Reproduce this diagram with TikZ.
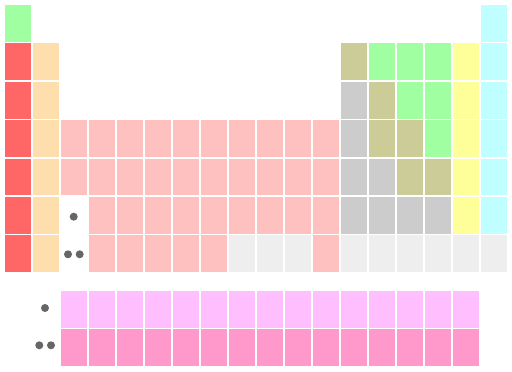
\documentclass[tikz,border=0pt]{standalone}
\definecolor{alkali}{HTML}{FF6666}
\definecolor{alkearth}{HTML}{FFDEAD}
\definecolor{transmetal}{HTML}{FFC0C0}
\definecolor{postmetal}{HTML}{CCCCCC}
\definecolor{metalloid}{HTML}{CCCC99}
\definecolor{nonmetal}{HTML}{A0FFA0}
\definecolor{halogen}{HTML}{FFFF99}
\definecolor{noblegas}{HTML}{C0FFFF}
\definecolor{lanthanoid}{HTML}{FFBFFF}
\definecolor{actinoid}{HTML}{FF99CC}
\definecolor{unknown}{HTML}{EEEEEE}
\definecolor{dotgray}{HTML}{666666}
% one box of the table: column, row, colour
\newcommand{\elbox}[3]{\fill[#3] ({5+28*(#1-1)},{5+38.4*(#2-1)}) rectangle ++(26,36.7);}
\newcommand{\felbox}[3]{\fill[#3] ({5+28*(#1-1)},{291+38.4*(#2-1)}) rectangle ++(26,36.7);}
\begin{document}
\begin{tikzpicture}[x=1pt,y=-1pt]
	\tikzset{marker/.style={fill=dotgray}}
	\useasboundingbox (0,0) rectangle (512,372);
	% main block
	\foreach \r in {2,...,7} {
		\elbox{1}{\r}{alkali}
		\elbox{2}{\r}{alkearth}
	}
	\foreach \r in {1,...,6}
		\elbox{18}{\r}{noblegas};
	\foreach \r in {2,...,6}
		\elbox{17}{\r}{halogen};
	\foreach \c/\r in {1/1,14/2,15/2,16/2,15/3,16/3,16/4}
		\elbox{\c}{\r}{nonmetal};
	\foreach \c/\r in {13/2,14/3,14/4,15/4,15/5,16/5}
		\elbox{\c}{\r}{metalloid};
	\foreach \c/\r in {13/3,13/4,13/5,14/5,13/6,14/6,15/6,16/6}
		\elbox{\c}{\r}{postmetal};
	\foreach \c in {3,...,12} {
		\elbox{\c}{4}{transmetal}
		\elbox{\c}{5}{transmetal}
	}
	\foreach \c in {4,...,12}
		\elbox{\c}{6}{transmetal};
	\foreach \c in {4,...,8,12}
		\elbox{\c}{7}{transmetal};
	\foreach \c in {9,10,11,13,14,15,16,17,18}
		\elbox{\c}{7}{unknown};
	% f block
	\foreach \c in {3,...,17} {
		\felbox{\c}{1}{lanthanoid}
		\felbox{\c}{2}{actinoid}
	}
	% markers
	\fill[marker] (73.7,216.7) circle (4);
	\fill[marker] (68,254.3) circle (4);
	\fill[marker] (79.7,254.3) circle (4);
	\fill[marker] (45,308) circle (4);
	\fill[marker] (39.3,345.3) circle (4);
	\fill[marker] (51,345.3) circle (4);
\end{tikzpicture}
\end{document}
